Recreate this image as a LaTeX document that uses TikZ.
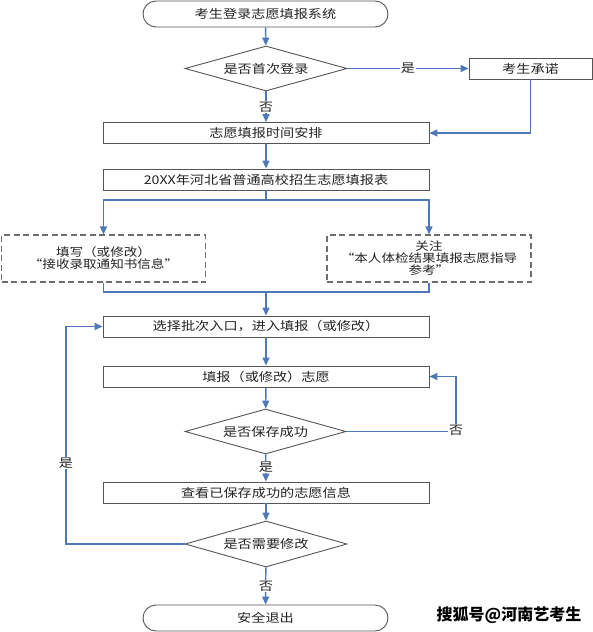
\documentclass[tikz,border=0pt]{standalone}
\usepackage{fontspec}
\setmainfont[FakeStretch=1.18]{Noto Sans CJK SC}
\newfontfamily\markfont{Noto Sans CJK SC}
\usetikzlibrary{shapes.geometric, arrows.meta}
\definecolor{flowblue}{RGB}{79, 120, 185}
\definecolor{edgegray}{RGB}{85, 85, 85}
\definecolor{dashgray}{RGB}{110, 110, 110}
\definecolor{inkgray}{RGB}{35, 35, 35}

\begin{document}
\begin{tikzpicture}[x=1pt, y=-1pt,
  procbox/.style={draw=edgegray, line width=0.9pt, text=inkgray, minimum width=326pt, minimum height=21pt, inner sep=0pt, font=\fontsize{12pt}{14pt}\selectfont},
  termbox/.style={procbox, rounded corners=13pt, minimum width=245pt, minimum height=26pt},
  decbox/.style={diamond, draw=edgegray, line width=0.9pt, text=inkgray, aspect=3.6, minimum width=162pt, minimum height=45pt, inner sep=0pt, font=\fontsize{12pt}{14pt}\selectfont},
  notebox/.style={draw=dashgray, line width=1.1pt, dash pattern=on 6pt off 3.5pt, text=inkgray, minimum width=204pt, minimum height=47pt, inner sep=0pt, align=center, font=\fontsize{11.5pt}{12pt}\selectfont},
  flow/.style={draw=flowblue, line width=1.4pt, -{Triangle[length=8pt, width=7pt]}},
  link/.style={draw=flowblue, line width=1.4pt},
  lbl/.style={fill=white, text=inkgray, inner sep=1pt, font=\fontsize{12pt}{14pt}\selectfont}
]
  \useasboundingbox (0,0) rectangle (593,632);

  \node[termbox] (start) at (265.5,14) {考生登录志愿填报系统};
  \node[decbox] (first) at (266,68.5) {是否首次登录};
  \node[procbox, minimum width=123pt] (promise) at (530.5,68.5) {考生承诺};
  \node[procbox] (plan) at (266,133) {志愿填报时间安排};
  \node[procbox] (form) at (266,179.5) {20XX年河北省普通高校招生志愿填报表};
  \node[notebox] (noteL) at (103.5,258.5) {填写（或修改）\\“接收录取通知书信息”};
  \node[notebox] (noteR) at (429,258.5) {关注\\“本人体检结果填报志愿指导\\参考”};
  \node[procbox] (batch) at (266,326.5) {选择批次入口，进入填报（或修改）};
  \node[procbox] (fill) at (266,376.5) {填报（或修改）志愿};
  \node[decbox, minimum width=161pt] (saved) at (265.5,431.5) {是否保存成功};
  \node[procbox] (view) at (266,492.5) {查看已保存成功的志愿信息};
  \node[decbox, minimum height=46pt] (modify) at (266,544) {是否需要修改};
  \node[termbox] (exit) at (265.5,618) {安全退出};

  \coordinate (split) at (266,200);
  \coordinate (merge) at (266,292);
  \coordinate (noloop) at (456,431.5);
  \coordinate (yesloop) at (66,544);

  \draw[flow] (start) -- (first);
  \draw[flow] (first) -- (promise);
  \draw[flow] (promise.south) |- (plan.east);
  \draw[flow] (first) -- (plan);
  \draw[flow] (plan) -- (form);
  \draw[link] (form) -- (split);
  \draw[flow] (split) -| (noteL.north);
  \draw[flow] (split) -| (noteR.north);
  \draw[link] (noteL.south) |- (merge) -| (noteR.south);
  \draw[flow] (merge) -- (batch);
  \draw[flow] (batch) -- (fill);
  \draw[flow] (fill) -- (saved);
  \draw[flow] (saved.east) -- (noloop) |- (fill.east);
  \draw[flow] (saved) -- (view);
  \draw[flow] (view) -- (modify);
  \draw[flow] (modify.west) -- (yesloop) |- (batch.west);
  \draw[flow] (modify) -- (exit);

  \node[lbl] (yes1) at (408,68.5) {是};
  \node[lbl] (no1) at (266,107) {否};
  \node[lbl] (no2) at (456,430) {否};
  \node[lbl] (yes2) at (266,467) {是};
  \node[lbl] (yes3) at (66,463) {是};
  \node[lbl] (no3) at (266,586) {否};

  \node[text=black, font=\markfont\fontsize{16pt}{18pt}\selectfont\bfseries] (mark) at (509,615) {搜狐号@河南艺考生};
\end{tikzpicture}
\end{document}
